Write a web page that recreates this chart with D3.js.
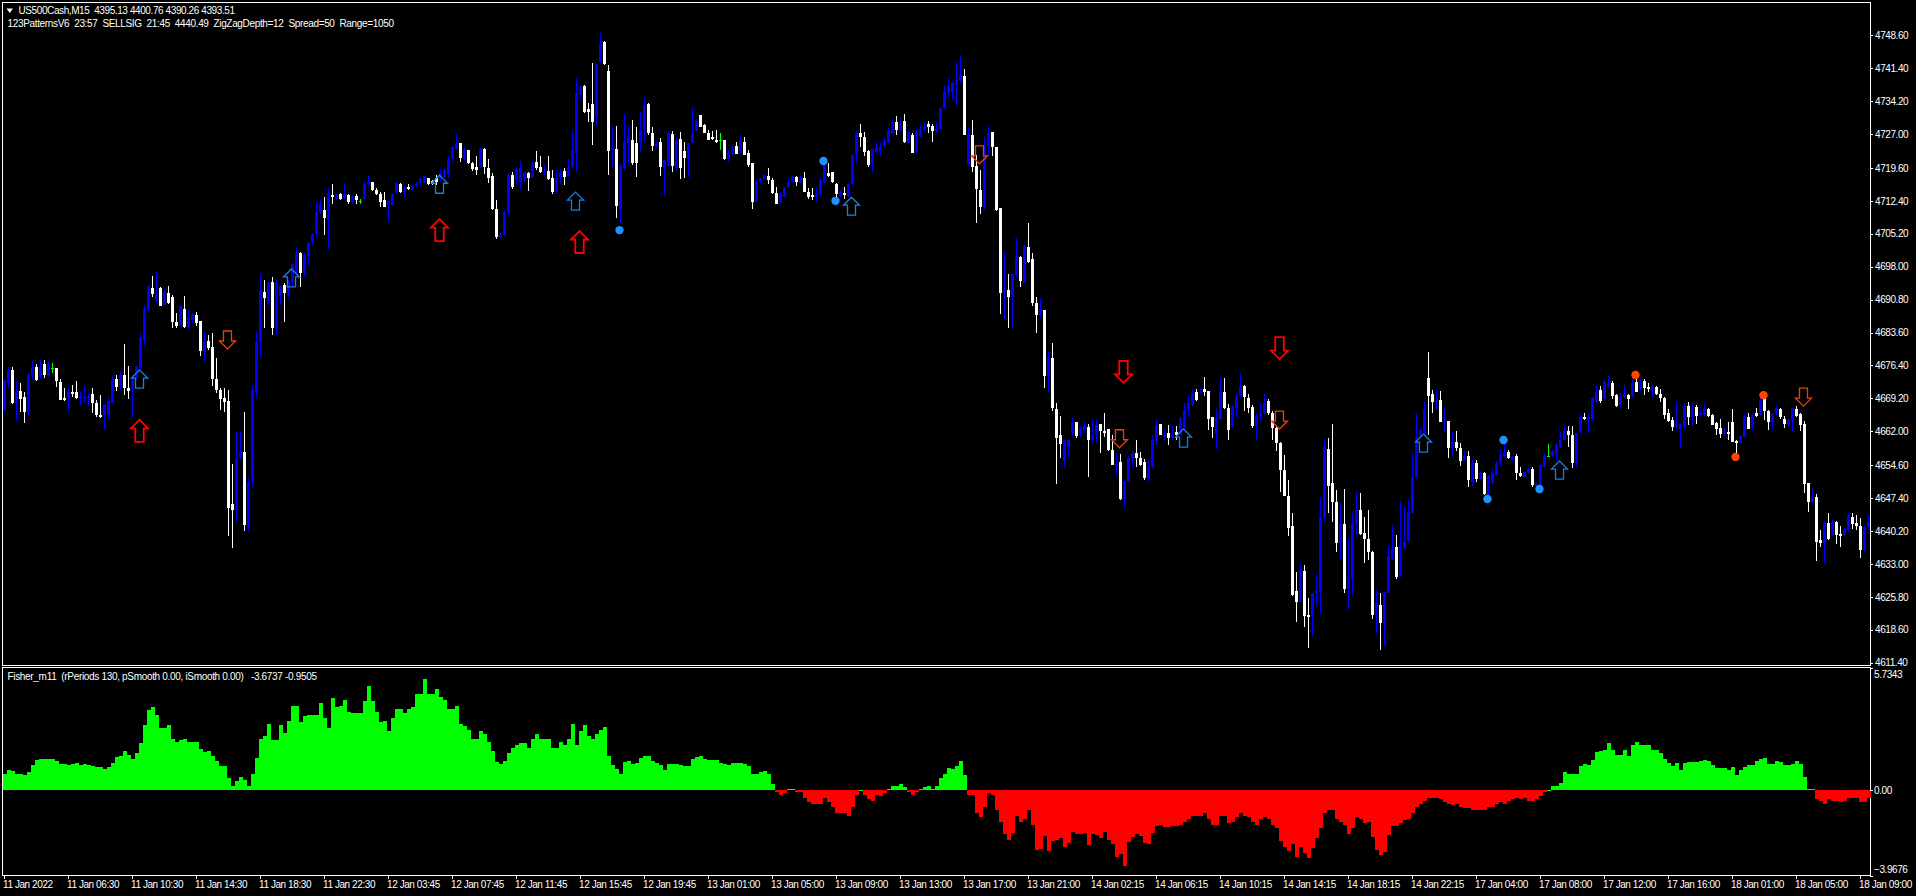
<!DOCTYPE html>
<html><head><meta charset="utf-8">
<script src="https://cdnjs.cloudflare.com/ajax/libs/d3/7.8.5/d3.min.js"></script>
<style>html,body{margin:0;padding:0;background:#000;overflow:hidden}svg{display:block}text{font-family:"Liberation Sans",Arial,sans-serif;font-size:10px;fill:#fff;white-space:pre}</style>
</head><body><svg id="c" width="1916" height="896"></svg>
<script>
// each row: open, high, low, close
const barsJan11=[
[4666.7,4673.2,4666.4,4673.2],[4672.5,4676.1,4671.4,4675.4],[4675.4,4676.1,4668.0,4668.1],[4668.1,4672.9,4664.3,4670.9],[4670.8,4672.5,4666.3,4669.1],[4669.6,4670.5,4663.9,4666.3],[4666.3,4674.7,4665.6,4674.3],[4674.1,4677.4,4673.2,4676.0],[4676.1,4676.7,4673.1,4673.2],[4673.8,4677.6,4673.4,4676.1],
[4676.7,4677.6,4673.7,4674.3],[4674.1,4677.4,4674.1,4676.7],[4675.9,4676.9,4674.8,4675.9],[4675.8,4675.9,4671.7,4672.9],[4672.8,4673.4,4668.9,4668.9],[4669.3,4671.4,4668.6,4668.9],[4669.0,4671.4,4666.5,4670.7],[4670.6,4672.1,4669.6,4670.2],[4670.6,4673.0,4669.1,4669.3],[4669.3,4670.7,4667.8,4669.6],
[4669.3,4671.9,4668.3,4669.5],[4669.1,4670.2,4667.6,4669.7],[4670.2,4671.4,4666.1,4668.3],[4668.3,4668.8,4665.2,4665.6],[4665.6,4669.9,4664.9,4665.1],[4665.4,4668.0,4662.3,4668.0],[4665.6,4669.4,4664.6,4668.6],[4668.3,4674.1,4668.2,4673.4],[4673.5,4674.3,4670.9,4671.6],[4671.7,4675.2,4671.0,4674.3],
[4674.3,4681.1,4670.0,4671.4],[4671.5,4676.3,4669.1,4670.9],[4671.0,4673.6,4665.0,4673.6],[4673.6,4676.3,4673.2,4676.3],[4675.8,4683.4,4675.4,4682.5],[4682.0,4689.6,4680.9,4688.7],[4688.7,4694.0,4688.2,4693.6],[4693.3,4696.0,4691.4,4692.0],[4690.4,4697.1,4690.0,4692.2],[4693.3,4693.5,4689.4,4689.4],
[4689.6,4692.9,4689.6,4692.5],[4692.3,4693.8,4689.8,4690.1],[4691.4,4691.8,4684.5,4685.8],[4685.8,4687.8,4684.5,4685.0],[4685.2,4689.4,4685.0,4689.4],[4688.8,4691.6,4684.5,4684.9],[4684.7,4688.5,4684.3,4686.9],[4686.3,4687.7,4685.6,4687.4],[4687.4,4688.0,4685.0,4685.7],[4686.1,4686.1,4678.5,4679.6],
[4679.4,4683.8,4677.2,4681.6],[4681.8,4683.1,4679.8,4680.3],[4680.4,4683.6,4671.8,4673.4],[4673.4,4678.0,4670.3,4671.0],[4671.0,4671.4,4666.6,4669.1],[4669.3,4671.4,4666.3,4668.5],[4668.6,4671.0,4639.0,4645.2],[4646.1,4654.8,4636.5,4644.8],[4644.7,4661.9,4642.2,4656.1],[4656.1,4661.9,4655.7,4657.4],
[4657.4,4666.2,4640.1,4641.5],[4641.0,4652.1,4640.3,4651.0],[4651.0,4671.9,4649.7,4671.0],[4670.7,4683.9,4669.4,4681.5],[4681.6,4696.5,4678.3,4692.9],[4692.5,4695.1,4684.5,4691.1],[4690.0,4694.7,4689.6,4694.5],[4694.7,4695.8,4683.1,4684.5],[4684.7,4695.1,4683.1,4694.4],[4691.4,4694.0,4689.6,4693.6],
[4694.1,4694.4,4686.0,4692.2],[4691.8,4695.1,4691.4,4694.7],[4694.7,4698.7,4693.6,4698.5],[4696.9,4702.0,4696.2,4700.9],[4700.9,4701.3,4693.6,4696.6],[4696.7,4700.9,4695.8,4700.6],[4700.3,4703.5,4698.4,4703.1],[4703.3,4705.3,4702.7,4705.2],[4705.3,4712.2,4704.6,4710.0],[4710.0,4712.6,4709.6,4711.7],
[4710.4,4713.3,4704.9,4708.6],[4708.2,4715.1,4701.8,4714.2],[4713.7,4716.1,4711.8,4713.3],[4712.7,4714.0,4712.6,4714.0],[4714.0,4714.2,4712.6,4712.7],[4712.9,4716.1,4712.7,4713.8],[4713.7,4714.0,4711.7,4712.2],[4712.1,4713.7,4711.8,4713.3],[4713.5,4713.8,4711.6,4712.6],[4712.4,4712.9,4711.7,4712.4],
[4712.7,4716.6,4712.6,4716.1],[4716.0,4718.0,4715.9,4716.6],[4716.6,4716.6,4714.6,4714.8],[4714.8,4715.1,4713.7,4713.8],[4713.8,4714.4,4711.1,4712.2],[4712.6,4714.4,4711.0,4711.1]];
const barsJan12=[
[4711.5,4712.6,4707.8,4712.4],[4711.5,4714.2,4711.3,4714.0],[4714.2,4716.6,4714.0,4716.4],[4716.1,4716.2,4714.2,4714.3],
[4714.4,4715.6,4713.3,4715.5],[4715.5,4716.1,4714.8,4715.0],[4714.9,4715.9,4714.8,4715.6],[4715.7,4716.6,4715.5,4716.4],[4716.2,4717.5,4715.6,4717.3],[4716.4,4718.0,4716.2,4717.8],
[4717.3,4717.5,4715.9,4716.1],[4716.8,4716.9,4715.8,4716.0],[4717.5,4718.0,4715.9,4716.6],[4717.3,4719.1,4716.6,4718.4],[4717.7,4719.5,4717.3,4719.1],[4718.3,4722.1,4717.5,4721.5],[4721.5,4724.4,4721.0,4724.1],[4723.7,4727.0,4723.5,4725.0],[4725.0,4725.0,4721.0,4721.7],[4721.5,4723.9,4721.2,4723.5],
[4723.5,4723.5,4720.5,4720.6],[4720.7,4721.0,4719.0,4719.4],[4719.9,4722.1,4718.0,4719.1],[4719.9,4723.9,4719.5,4723.7],[4723.7,4723.9,4718.3,4719.9],[4719.5,4721.5,4716.4,4717.5],[4717.9,4718.4,4710.5,4710.6],[4710.7,4712.6,4704.0,4704.6],[4704.6,4705.3,4704.2,4704.9],[4704.9,4710.4,4704.7,4710.0],
[4709.7,4718.4,4709.3,4718.0],[4718.0,4718.8,4714.9,4715.5],[4716.9,4719.5,4716.1,4719.3],[4716.6,4721.1,4714.8,4719.5],[4716.9,4718.8,4716.6,4718.4],[4718.4,4718.8,4714.6,4717.3],[4717.7,4721.0,4717.3,4720.7],[4720.8,4723.4,4719.1,4719.6],[4719.7,4722.1,4718.4,4718.8],[4718.6,4720.2,4718.1,4718.8],
[4718.9,4722.1,4717.0,4717.2],[4717.3,4719.1,4714.0,4714.4],[4714.4,4719.1,4714.0,4717.3],[4717.7,4719.1,4716.0,4718.6],[4718.9,4719.5,4715.9,4717.7],[4717.9,4721.5,4717.7,4719.9],[4719.9,4727.7,4719.5,4723.5],[4722.8,4739.2,4718.8,4735.9],[4735.5,4737.7,4734.4,4737.4],[4737.5,4737.7,4731.5,4731.9],
[4732.4,4733.7,4729.7,4731.9],[4733.5,4742.5,4724.6,4729.7],[4730.8,4742.5,4729.0,4742.3],[4742.8,4749.0,4742.5,4746.8],[4747.2,4747.4,4742.1,4742.3],[4740.9,4742.1,4718.0,4723.2],[4723.5,4728.8,4719.9,4723.9],[4723.7,4728.8,4708.6,4711.3],[4710.7,4720.6,4707.5,4720.0],[4719.5,4731.4,4719.2,4725.3],
[4725.0,4729.0,4720.6,4726.4],[4725.8,4730.1,4720.2,4720.6],[4725.0,4728.6,4717.7,4720.6],[4725.0,4731.9,4723.1,4728.0],[4728.0,4734.8,4725.3,4733.4],[4733.6,4733.9,4726.8,4727.2],[4727.3,4728.6,4723.2,4724.4],[4724.5,4725.3,4723.9,4725.0],[4725.3,4726.1,4717.8,4719.9],[4719.3,4721.5,4713.7,4721.3],
[4720.2,4727.7,4719.9,4727.2],[4727.0,4727.7,4718.8,4720.0],[4719.5,4726.1,4719.2,4725.7],[4725.9,4727.5,4717.2,4719.5],[4723.2,4725.3,4717.3,4721.7],[4721.5,4725.0,4717.7,4725.0],[4725.0,4732.6,4725.0,4727.2],[4728.0,4730.4,4727.7,4729.8],[4731.2,4731.2,4728.5,4728.6],[4729.0,4729.3,4727.2,4727.3]];
const barsJan13=[
[4727.3,4727.9,4725.7,4725.8],[4726.4,4727.7,4725.7,4725.9],[4725.8,4727.9,4725.1,4725.3],[4725.7,4727.2,4723.5,4725.7],[4725.8,4725.8,4721.3,4721.5],[4721.5,4723.5,4721.0,4722.8],[4722.6,4724.6,4722.1,4724.2],[4724.5,4725.3,4722.6,4722.6],[4722.8,4726.8,4722.6,4725.7],[4725.3,4726.4,4722.4,4722.4],
[4722.9,4723.5,4719.7,4720.2],[4720.6,4720.6,4710.7,4712.2],[4712.4,4717.0,4712.2,4716.6],[4716.6,4717.3,4716.4,4717.1],[4717.1,4718.3,4717.0,4718.0],[4717.8,4719.5,4716.1,4717.0],[4717.0,4717.3,4714.0,4714.2],[4714.2,4715.5,4711.6,4711.7],[4711.9,4714.4,4711.7,4714.0],[4713.3,4715.5,4713.2,4715.4],
[4715.4,4717.3,4715.1,4716.6],[4716.6,4717.9,4716.4,4717.7],[4717.7,4717.8,4715.7,4716.6],[4716.4,4717.8,4716.2,4717.5],[4717.5,4718.6,4714.3,4714.3],[4714.4,4715.1,4712.8,4713.3],[4713.7,4715.1,4712.6,4713.3],[4713.2,4715.5,4712.2,4713.9],[4713.9,4717.3,4713.7,4717.0],[4716.6,4720.6,4716.4,4720.2],
[4718.4,4720.6,4717.7,4717.8],[4718.6,4718.8,4716.2,4716.6],[4716.1,4716.2,4713.3,4713.9],[4713.3,4714.8,4713.2,4714.4],[4714.2,4715.5,4712.9,4713.7],[4713.5,4716.2,4713.3,4716.0],[4716.0,4722.4,4715.9,4722.4],[4722.4,4727.5,4720.6,4727.2],[4727.2,4729.1,4724.2,4726.3],[4726.4,4727.5,4722.2,4723.1],
[4723.4,4723.5,4719.9,4720.2],[4720.5,4723.7,4718.8,4723.7],[4723.1,4725.3,4722.9,4724.1],[4723.4,4725.3,4722.2,4724.2],[4724.4,4726.1,4724.1,4725.7],[4725.3,4728.3,4725.1,4727.9],[4727.3,4730.4,4727.2,4729.7],[4729.7,4731.0,4726.8,4727.9],[4727.9,4730.1,4727.7,4729.7],[4729.9,4731.4,4725.1,4725.3],
[4725.0,4727.9,4724.8,4727.5],[4726.8,4727.2,4722.8,4722.9],[4723.1,4727.9,4722.9,4727.7],[4726.4,4729.0,4726.3,4728.2],[4727.9,4729.7,4727.7,4728.8],[4729.2,4729.9,4727.2,4728.5],[4728.8,4729.2,4725.3,4727.7],[4727.5,4729.7,4727.2,4728.4],[4728.2,4733.0,4728.0,4732.6],[4732.6,4737.7,4732.4,4736.1],
[4735.9,4739.2,4734.8,4737.5],[4736.3,4738.5,4734.4,4738.1],[4737.7,4742.8,4733.4,4738.8],[4738.5,4744.3,4738.1,4739.9],[4739.7,4741.2,4726.7,4726.7],[4720.2,4728.6,4720.1,4726.8],[4726.8,4730.1,4718.8,4719.9],[4720.0,4722.4,4707.6,4715.0],[4714.8,4719.1,4709.5,4711.0],[4711.0,4726.4,4710.5,4724.2],
[4724.2,4728.8,4722.1,4727.2],[4727.5,4727.5,4722.1,4724.1],[4724.2,4724.2,4710.2,4710.4],[4710.8,4710.8,4687.7,4692.3],[4692.5,4701.3,4686.5,4692.9],[4692.9,4696.4,4684.5,4691.3],[4691.3,4696.5,4684.5,4696.5],[4696.2,4704.2,4695.8,4700.2],[4700.2,4700.3,4693.5,4694.9],[4694.5,4702.7,4694.4,4702.5],
[4702.2,4707.5,4698.7,4699.1],[4699.6,4700.9,4689.4,4690.0],[4690.1,4691.4,4683.4,4687.4],[4687.4,4691.1,4687.1,4688.7],[4688.5,4688.5,4671.5,4674.1],[4674.1,4679.6,4670.7,4678.3],[4678.0,4681.4,4666.4,4667.2],[4666.9,4668.3,4650.5,4660.6],[4661.2,4665.3,4656.2,4659.2],[4655.4,4660.2,4654.1,4660.1],
[4658.5,4660.2,4656.3,4660.2],[4661.6,4665.2,4661.2,4664.1],[4664.0,4664.0,4660.6,4661.0],[4661.6,4663.2,4660.8,4662.7],[4662.3,4664.1,4661.6,4663.2],[4663.0,4663.7,4651.9,4660.1]];
const barsJan14=[
[4660.1,4664.8,4659.2,4661.3],[4661.3,4664.6,4659.7,4663.4],[4663.5,4663.7,4657.3,4662.1],[4662.1,4665.9,4660.8,4661.7],[4662.4,4662.6,4657.6,4657.9],[4657.9,4661.2,4654.6,4654.6],[4654.5,4657.2,4652.4,4654.9],[4655.2,4657.0,4646.9,4647.2],
[4647.2,4651.3,4645.4,4651.1],[4651.0,4656.5,4651.0,4656.2],[4656.1,4657.6,4654.3,4657.2],[4657.2,4660.2,4654.3,4656.2],[4656.1,4657.4,4654.5,4654.6],[4655.2,4656.0,4651.4,4651.7],[4651.5,4655.7,4651.0,4654.1],[4654.1,4661.3,4653.9,4660.1],[4659.9,4664.6,4659.0,4663.4],[4663.5,4663.6,4661.1,4661.3],
[4661.1,4662.4,4660.2,4661.3],[4661.6,4663.4,4659.0,4660.6],[4660.6,4663.2,4660.2,4661.3],[4661.8,4663.2,4660.2,4661.3],[4661.3,4665.2,4661.2,4665.0],[4662.7,4668.1,4662.3,4666.7],[4666.7,4669.7,4665.1,4668.1],[4667.8,4671.2,4667.5,4670.3],[4670.7,4671.2,4668.7,4668.9],[4670.5,4671.4,4670.3,4670.7],
[4671.3,4673.8,4669.7,4670.5],[4670.8,4670.9,4662.3,4664.8],[4665.1,4665.1,4660.5,4662.9],[4661.6,4666.8,4658.1,4665.0],[4664.8,4673.6,4664.8,4670.7],[4670.7,4673.6,4666.8,4667.0],[4667.2,4668.0,4660.1,4662.3],[4662.9,4667.8,4662.9,4667.5],[4667.2,4670.3,4665.1,4669.7],[4669.7,4674.7,4669.6,4671.9],
[4672.0,4672.1,4666.5,4669.4],[4669.2,4670.1,4665.9,4667.2],[4667.4,4667.8,4662.7,4663.2],[4663.2,4665.9,4660.0,4665.4],[4665.4,4668.3,4664.1,4665.9],[4665.9,4670.1,4665.8,4668.3],[4668.6,4669.0,4665.6,4665.9],[4665.9,4666.5,4660.1,4662.7],[4662.7,4663.2,4657.6,4659.5],[4659.5,4659.7,4648.8,4653.5],
[4653.5,4656.8,4647.9,4647.9],[4647.9,4651.3,4639.2,4640.8],[4641.2,4644.1,4626.0,4626.2],[4627.1,4631.3,4620.4,4624.7],[4624.7,4632.9,4624.7,4631.7],[4631.5,4632.8,4619.3,4621.6],[4621.8,4625.5,4614.7,4621.5],[4621.3,4626.6,4617.2,4626.6],[4626.6,4630.8,4624.0,4627.0],[4626.9,4647.5,4622.3,4643.2],
[4643.3,4660.1,4642.2,4658.8],[4658.1,4660.6,4644.1,4650.1],[4650.6,4663.6,4642.2,4646.5],[4646.6,4649.2,4635.7,4637.5],[4637.5,4646.3,4634.0,4641.7],[4641.7,4649.3,4626.6,4627.5],[4627.7,4638.6,4622.9,4630.4],[4629.6,4644.1,4626.2,4642.0],[4641.7,4648.8,4639.3,4644.8],[4644.8,4648.6,4639.3,4639.5],
[4639.7,4643.3,4633.1,4638.4],[4638.4,4644.9,4633.9,4635.5],[4635.7,4635.9,4620.9,4621.8],[4621.8,4627.3,4617.8,4624.7],[4624.0,4626.6,4614.2,4620.0],[4619.6,4627.0,4615.1,4626.9],[4626.7,4636.9,4626.6,4634.7],[4634.0,4641.5,4633.9,4636.2],[4636.6,4639.3,4629.6,4630.1],[4630.4,4646.8,4630.2,4636.8],
[4636.4,4645.5,4636.0,4637.9],[4638.1,4647.0,4637.9,4644.4],[4644.1,4657.3,4643.9,4652.1],[4652.1,4666.1,4652.1,4660.8],[4660.8,4662.7,4660.7,4662.3],[4661.6,4668.5,4661.3,4666.9],[4673.6,4679.4,4661.2,4669.7],[4670.2,4671.0,4665.9,4668.5],[4668.5,4671.2,4666.8,4669.2],[4668.9,4670.9,4664.0,4664.1],
[4664.1,4667.4,4661.9,4664.3],[4664.3,4664.3,4656.1,4658.4],[4658.4,4661.9,4656.5,4659.6],[4659.7,4662.1,4657.6,4658.4],[4658.3,4659.4,4654.5,4655.6],[4655.7,4657.6,4655.4,4656.6],[4656.6,4657.6,4649.9,4651.3],[4651.0,4655.7,4650.0,4655.0]];
const barsJan17=[
[4655.0,4655.7,4651.0,4651.5],[4651.6,4653.2,4651.4,4652.8],[4652.8,4653.2,4648.1,4648.4],[4648.1,4652.4,4647.7,4652.3],[4650.6,4653.7,4650.5,4652.8],[4652.4,4655.4,4652.2,4655.0],[4655.0,4657.9,4654.6,4656.8],[4656.5,4659.2,4656.1,4657.2],[4657.5,4657.9,4656.0,4656.2],[4655.9,4656.6,4655.6,4656.4],
[4656.6,4657.0,4651.4,4652.8],[4652.8,4654.1,4652.1,4652.3],[4652.1,4653.2,4651.9,4653.0],[4652.8,4653.9,4652.7,4653.7],[4653.7,4654.3,4649.8,4650.3],[4650.1,4650.6,4649.9,4650.4],[4650.3,4654.9,4650.1,4654.6],[4654.3,4657.0,4654.1,4656.8],[4656.5,4659.2,4656.3,4656.5],[4656.5,4657.9,4656.3,4657.8],
[4656.8,4659.4,4655.4,4658.9],[4658.5,4661.9,4658.3,4660.2],[4660.1,4663.2,4660.0,4662.1],[4662.1,4663.2,4658.6,4661.1],[4661.3,4663.2,4653.9,4655.0],[4655.0,4661.7,4654.1,4661.7],[4661.9,4665.7,4661.7,4665.1],[4665.2,4665.9,4664.5,4664.7],[4664.6,4666.1,4661.7,4665.1],[4664.6,4669.6,4664.3,4669.2],
[4668.5,4672.1,4668.3,4670.7],[4671.0,4671.9,4668.3,4668.7],[4669.0,4673.0,4668.8,4673.0],[4671.6,4674.1,4671.4,4672.6],[4672.6,4672.9,4669.0,4669.8],[4669.9,4670.2,4667.4,4667.5],[4667.8,4670.3,4667.0,4669.6],[4669.4,4672.1,4669.2,4670.2],[4670.0,4670.2,4666.9,4669.1],[4669.6,4673.4,4669.4,4672.5],
[4672.8,4673.4,4670.5,4670.7],[4671.0,4673.4,4670.9,4673.2],[4673.0,4673.4,4669.9,4671.5],[4671.6,4672.5,4670.7,4671.2],[4671.0,4672.1,4669.6,4671.9],[4671.7,4671.9,4669.9,4670.2],[4670.2,4671.2,4668.5,4669.2],[4669.2,4669.4,4664.8,4665.6],[4665.9,4666.8,4664.1,4664.3],[4664.5,4665.1,4662.1,4662.9],
[4662.9,4668.5,4662.6,4663.6],[4662.6,4663.9,4658.3,4663.7],[4662.9,4668.1,4662.6,4667.5],[4667.5,4668.5,4663.4,4665.2],[4665.2,4668.1,4663.2,4667.2],[4667.4,4667.7,4663.7,4665.4],[4665.6,4666.7,4665.2,4665.9],[4665.6,4668.3,4665.4,4666.8],[4666.8,4667.0,4665.2,4665.4],[4665.6,4665.8,4663.4,4663.4],
[4663.9,4664.1,4661.3,4662.5],[4662.7,4664.8,4660.5,4661.4],[4661.4,4662.7,4661.2,4662.1],[4661.9,4664.1,4660.2,4661.4]];
const barsJan18=[
[4664.0,4666.9,4659.6,4659.7],[4659.9,4660.2,4657.2,4659.5],[4659.5,4661.2,4659.4,4661.0],[4660.8,4665.8,4660.7,4665.1],[4665.1,4666.1,4662.4,4662.5],[4662.7,4665.9,4662.3,4665.6],[4666.1,4667.0,4665.2,4665.4],[4665.6,4669.2,4665.4,4668.9],
[4669.0,4669.2,4664.5,4666.4],[4666.4,4666.7,4662.3,4664.1],[4664.1,4665.9,4662.4,4665.8],[4665.8,4667.5,4665.6,4667.2],[4666.9,4667.2,4664.8,4665.2],[4664.8,4665.3,4662.7,4663.6],[4663.4,4664.8,4663.2,4664.5],[4664.3,4667.2,4661.9,4667.0],[4666.8,4667.5,4665.2,4665.4],[4665.7,4665.9,4662.0,4663.4],
[4663.6,4664.3,4648.6,4650.5],[4650.6,4650.8,4644.4,4646.6],[4646.6,4649.3,4646.4,4647.7],[4647.6,4648.3,4633.6,4637.9],[4638.2,4640.4,4636.8,4637.6],[4637.5,4642.2,4633.3,4641.9],[4641.9,4644.1,4638.2,4638.4],[4639.3,4642.6,4639.0,4642.2],[4642.2,4642.4,4637.3,4639.3],[4639.5,4641.2,4636.8,4639.1],
[4639.3,4640.8,4639.1,4640.6],[4640.4,4643.9,4640.0,4643.7],[4643.2,4644.1,4640.6,4641.7],[4641.9,4643.7,4640.4,4641.3],[4641.3,4643.0,4634.2,4636.0],[4636.0,4641.2,4635.7,4641.0],[4641.0,4643.7,4640.6,4642.2]];
const fisher=[0.78,0.93,0.89,0.79,0.79,0.70,0.84,1.17,1.40,1.45,
1.45,1.45,1.45,1.35,1.21,1.21,1.17,1.21,1.26,1.17,
1.21,1.17,1.12,1.07,1.07,1.00,1.07,1.26,1.54,1.59,
1.82,1.63,1.45,1.73,2.19,3.03,3.73,3.87,3.54,2.89,
2.89,3.03,2.38,2.24,2.33,2.42,2.28,2.28,2.28,1.91,
1.77,1.82,1.59,1.35,1.12,1.12,0.56,0.23,0.42,0.61,
0.47,0.23,0.75,1.49,2.38,2.56,3.12,2.33,2.33,3.03,
2.70,3.26,3.96,3.93,3.21,3.45,3.54,3.50,3.54,4.06,
3.40,2.89,4.29,3.87,3.96,4.24,3.64,3.59,3.59,3.59,
4.15,4.85,4.15,3.64,3.17,3.22,2.75,3.36,3.78,3.82,
3.59,3.82,3.87,4.48,4.48,5.22,4.52,4.52,4.71,4.38,
4.20,3.82,3.82,3.96,3.08,2.99,2.84,2.42,2.42,2.75,
2.61,2.28,1.82,1.31,1.21,1.35,1.73,1.96,2.10,2.19,
2.19,2.00,2.38,2.61,2.42,2.38,2.38,2.00,2.00,2.28,
2.10,2.38,3.08,2.14,2.75,3.03,2.52,2.38,2.61,2.84,
2.94,1.59,1.17,0.98,0.79,1.31,1.35,1.21,1.26,1.49,
1.59,1.59,1.35,1.26,1.17,0.93,1.21,1.21,1.21,1.17,
1.12,1.12,1.45,1.54,1.59,1.45,1.40,1.40,1.40,1.26,
1.21,1.17,1.26,1.26,1.26,1.21,1.12,0.79,0.75,0.84,
0.89,0.79,0.28,-0.05,-0.23,-0.14,0.05,0.09,-0.09,-0.09,
-0.33,-0.56,-0.61,-0.61,-0.61,-0.37,-0.56,-0.79,-1.03,-1.07,
-1.07,-1.17,-0.75,-0.23,0.03,-0.19,-0.42,-0.51,-0.23,-0.28,
-0.14,0.05,0.23,0.23,0.28,0.14,-0.05,-0.19,-0.09,0.05,
0.14,0.19,0.09,0.19,0.56,0.79,1.03,0.98,1.12,1.35,
0.70,-0.19,-0.23,-1.07,-1.26,-0.79,-0.14,-0.19,-0.93,-1.49,
-2.05,-2.33,-2.00,-1.21,-1.49,-1.31,-0.93,-1.63,-2.80,-2.75,
-2.14,-2.84,-2.38,-2.33,-2.24,-2.66,-2.47,-1.96,-2.05,-2.05,
-2.00,-2.56,-2.05,-2.10,-2.24,-1.96,-2.33,-2.52,-3.12,-2.98,
-3.54,-2.42,-2.19,-2.05,-2.14,-2.47,-2.52,-2.00,-1.68,-1.63,
-1.72,-1.72,-1.68,-1.68,-1.59,-1.45,-1.31,-1.21,-1.17,-1.17,
-1.07,-1.35,-1.59,-1.63,-1.21,-1.17,-1.54,-1.45,-1.26,-1.03,
-1.21,-1.26,-1.45,-1.59,-1.35,-1.26,-1.35,-1.59,-1.77,-2.38,
-2.66,-2.84,-2.52,-3.12,-2.66,-2.94,-3.17,-2.70,-2.24,-1.73,
-1.03,-0.93,-0.93,-1.35,-1.49,-1.59,-2.05,-1.73,-1.26,-1.31,
-1.54,-1.49,-2.19,-2.80,-3.03,-2.89,-2.10,-1.68,-1.68,-1.54,
-1.40,-1.31,-1.03,-0.79,-0.65,-0.51,-0.33,-0.37,-0.37,-0.42,
-0.56,-0.65,-0.70,-0.65,-0.79,-0.84,-0.84,-0.93,-0.89,-0.93,
-0.89,-0.79,-0.75,-0.65,-0.56,-0.61,-0.47,-0.42,-0.37,-0.42,
-0.37,-0.47,-0.51,-0.42,-0.28,-0.05,0.02,0.23,0.19,0.37,
0.84,0.79,0.75,0.75,1.12,1.21,1.17,1.40,1.77,1.82,
1.90,2.19,1.87,1.63,1.63,1.87,1.59,2.10,2.24,2.14,
2.14,2.14,1.87,1.87,1.73,1.45,1.26,1.12,1.26,0.93,
1.26,1.31,1.31,1.31,1.35,1.40,1.35,1.17,1.03,1.03,
1.03,0.93,1.07,0.70,0.93,1.07,1.17,1.17,1.35,1.45,
1.49,1.21,1.21,1.35,1.31,1.17,1.17,1.21,1.35,1.21,
0.61,0.05,0.05,-0.42,-0.51,-0.61,-0.42,-0.47,-0.51,-0.56,
-0.47,-0.37,-0.33,-0.37,-0.56,-0.56,-0.37];
const priceTicks=[4748.6,4741.4,4734.2,4727,4719.6,4712.4,4705.2,4698,4690.8,4683.6,4676.4,4669.2,4662,4654.6,4647.4,4640.2,4633,4625.8,4618.6,4611.4];
const fisherTicks=[5.7343,0,-3.9676];
const timeLabels=["11 Jan 2022","11 Jan 06:30","11 Jan 10:30","11 Jan 14:30","11 Jan 18:30","11 Jan 22:30","12 Jan 03:45","12 Jan 07:45","12 Jan 11:45","12 Jan 15:45","12 Jan 19:45","13 Jan 01:00","13 Jan 05:00","13 Jan 09:00","13 Jan 13:00","13 Jan 17:00","13 Jan 21:00","14 Jan 02:15","14 Jan 06:15","14 Jan 10:15","14 Jan 14:15","14 Jan 18:15","14 Jan 22:15","17 Jan 04:00","17 Jan 08:00","17 Jan 12:00","17 Jan 16:00","18 Jan 01:00","18 Jan 05:00","18 Jan 09:00"];
const blueUpBars=[34,72,109,143,212,295,355,389], blueUpPrices=[4675.4,4697.5,4718.0,4714.3,4713.2,4662.5,4661.4,4655.5];
const redUpBars=[34,109,144], redUpPrices=[4664.5,4708.4,4705.8];
const orangeDownBars=[56,244,279,319,450], orangeDownPrices=[4680.0,4720.5,4658.4,4662.5,4667.5];
const redDownBars=[280,319], redDownPrices=[4672.6,4677.8];
const blueDotBars=[154,205,208,375,371,384], blueDotPrices=[4706.0,4721.1,4712.4,4660.1,4647.2,4649.4];
const orangeDotBars=[408,433,440], orangeDotPrices=[4674.3,4656.4,4669.9];

const candles=[...barsJan11,...barsJan12,...barsJan13,...barsJan14,...barsJan17,...barsJan18];
const svg=d3.select("#c");
const x=d3.scaleLinear().domain([0,16]).range([3.5,67.5]);
const yP=d3.scaleLinear().domain([4748.6,4611.4]).range([35.3,662.7]);
const yF=d3.scaleLinear().domain([5.7343,-3.9676]).range([667.5,875.5]);
const cx=i=>Math.round(x(i))+0.5;

[[2.5,2.5,1867.5,663],[2.5,667.5,1867.5,208]].forEach(r=>svg.append("rect").attr("x",r[0]).attr("y",r[1]).attr("width",r[2]).attr("height",r[3]).attr("fill","none").attr("stroke","#fff").attr("shape-rendering","crispEdges"));

svg.append("g").attr("shape-rendering","crispEdges").selectAll("rect").data(fisher).join("rect")
 .attr("x",(d,i)=>Math.round(x(i))-1.5).attr("width",4)
 .attr("y",d=>d>=0?yF(d):yF(0)).attr("height",d=>Math.max(1,Math.abs(yF(d)-yF(0))))
 .attr("fill",d=>d>=0?"#00ff00":"#ff0000");

const colr=d=>d[3]>d[0]?"#0000ff":d[3]<d[0]?"#ffffff":"#00ff00";
const cg=svg.append("g").attr("shape-rendering","crispEdges");
cg.selectAll("line").data(candles).join("line").attr("x1",(d,i)=>cx(i)).attr("x2",(d,i)=>cx(i))
 .attr("y1",d=>yP(d[1])).attr("y2",d=>yP(d[2])).attr("stroke",colr).attr("stroke-width",1);
cg.selectAll("rect").data(candles).join("rect")
 .attr("x",(d,i)=>cx(i)-1.5).attr("width",3)
 .attr("y",d=>yP(Math.max(d[0],d[3])))
 .attr("height",d=>Math.max(1,Math.abs(yP(d[0])-yP(d[3]))))
 .attr("fill",colr);

function arrows(barsA,prices,dir,w,h,color,sw){
 const hw=w/2, st=hw/2, hh=hw;
 const path=dir>0
  ?`M0,0L${hw},${hh}L${st},${hh}L${st},${h}L${-st},${h}L${-st},${hh}L${-hw},${hh}Z`
  :`M0,0L${hw},${-hh}L${st},${-hh}L${st},${-h}L${-st},${-h}L${-st},${-hh}L${-hw},${-hh}Z`;
 svg.append("g").selectAll("path").data(barsA).join("path").attr("d",path)
  .attr("transform",(d,k)=>`translate(${x(d)},${yP(prices[k])})`)
  .attr("fill","none").attr("stroke",color).attr("stroke-width",sw);
}
arrows(blueUpBars,blueUpPrices,1,16,18,"#1e7fd6",1.3);
arrows(redUpBars,redUpPrices,1,17,22,"#ff0000",1.8);
arrows(orangeDownBars,orangeDownPrices,-1,16,18,"#e8420a",1.3);
arrows(redDownBars,redDownPrices,-1,17,22,"#ff0000",1.8);

function dots(barsA,prices,color){
 svg.append("g").selectAll("circle").data(barsA).join("circle").attr("cx",d=>x(d)).attr("cy",(d,k)=>yP(prices[k])).attr("r",4.2).attr("fill",color);
}
dots(blueDotBars,blueDotPrices,"#1e90ff");
dots(orangeDotBars,orangeDotPrices,"#ff4500");

const styleAxis=g=>{g.select(".domain").remove();g.selectAll("line").attr("stroke","#fff").attr("shape-rendering","crispEdges");
 g.selectAll("text").attr("fill","#fff").style("font-family",'"Liberation Sans",Arial,sans-serif').style("font-size","10px").style("letter-spacing","-0.42px");};
svg.append("g").attr("transform","translate(1870,0)")
 .call(d3.axisRight(yP).tickValues(priceTicks).tickSize(3).tickPadding(2).tickFormat(d3.format(".2f"))).call(styleAxis);
const fa=svg.append("g").attr("transform","translate(1870,0)")
 .call(d3.axisRight(yF).tickValues(fisherTicks).tickSize(3).tickPadding(1).tickFormat(d=>d===0?"0.00":d3.format(".4f")(d))).call(styleAxis);
fa.selectAll("text").attr("dy",d=>d>1?"1.0em":d<-1?"-0.3em":"0.32em");
const xa=svg.append("g").attr("transform","translate(0,875.5)")
 .call(d3.axisBottom(x).tickValues(timeLabels.map((d,k)=>k*16)).tickSize(3).tickPadding(2).tickFormat((d,k)=>timeLabels[k])).call(styleAxis);
xa.selectAll("text").attr("text-anchor","start").attr("dx","-1");

svg.append("path").attr("d","M6.5,8.5L13,8.5L9.75,13Z").attr("fill","#fff");
const hdr=(t,px,py,len)=>svg.append("text").attr("x",px).attr("y",py).attr("textLength",len).attr("lengthAdjust","spacing").attr("xml:space","preserve").text(t);
hdr("US500Cash,M15  4395.13 4400.76 4390.26 4393.51",18.5,14.2,216.5);
hdr("123PatternsV6  23:57  SELLSIG  21:45  4440.49  ZigZagDepth=12  Spread=50  Range=1050",7.5,27.2,386.5);
hdr("Fisher_m11  (rPeriods 130, pSmooth 0.00, iSmooth 0.00)   -3.6737 -0.9505",7.5,680.2,309.5);
</script></body></html>
